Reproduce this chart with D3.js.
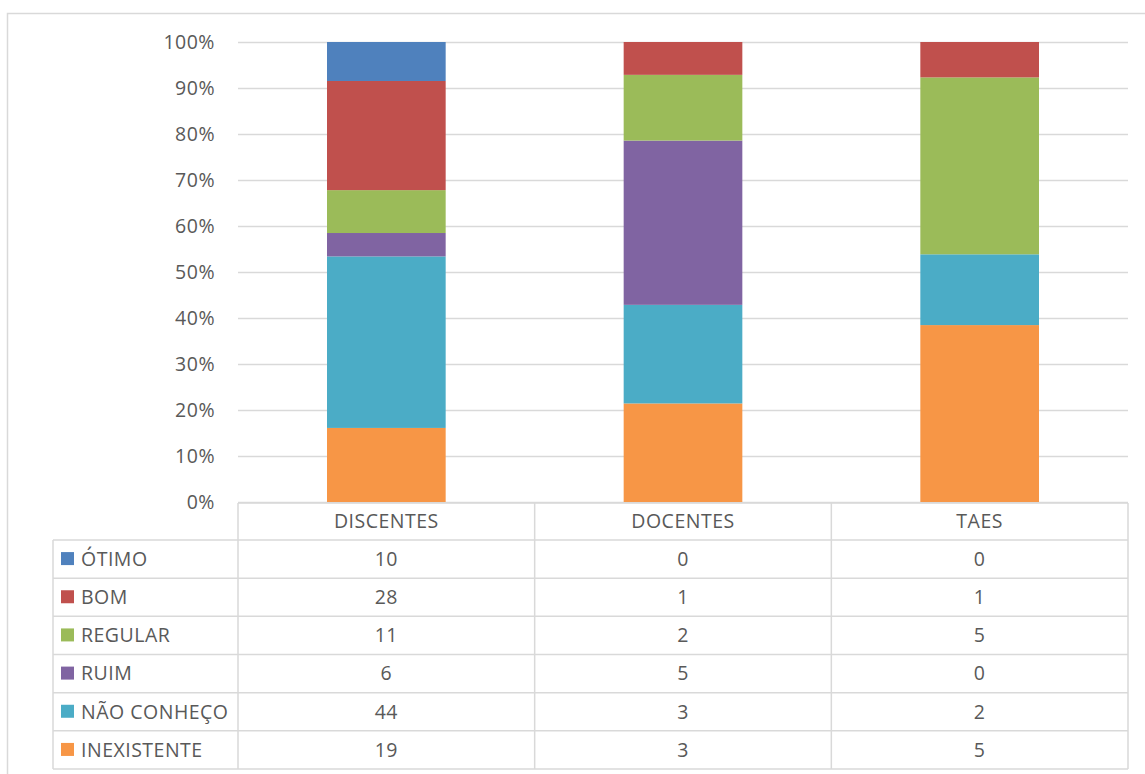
<!DOCTYPE html>
<html>
<head>
<meta charset="utf-8">
<script src="https://cdn.jsdelivr.net/npm/d3@7"></script>
<style>
  html, body { margin: 0; padding: 0; background: #fff; }
  svg { display: block; }
  text { font-family: "Open Sans", sans-serif; fill: #595959; }
</style>
</head>
<body>
<svg id="chart" width="1145" height="774"></svg>
<script>
const categories = ["DISCENTES", "DOCENTES", "TAES"];
// series in legend (table) order, top to bottom
const seriesNames = ["ÓTIMO", "BOM", "REGULAR", "RUIM", "NÃO CONHEÇO", "INEXISTENTE"];
const otimo       = [10, 0, 0];
const bom         = [28, 1, 1];
const regular     = [11, 2, 5];
const ruim        = [6, 5, 0];
const naoConheco  = [44, 3, 2];
const inexistente = [19, 3, 5];
const seriesColors = ["#4F81BD", "#C0504D", "#9BBB59", "#8064A2", "#4BACC6", "#F79646"];
const yTicks = [0, 0.1, 0.2, 0.3, 0.4, 0.5, 0.6, 0.7, 0.8, 0.9, 1.0];

const seriesValues = [otimo, bom, regular, ruim, naoConheco, inexistente];

const rows = categories.map((c, i) => {
  const r = { cat: c };
  seriesNames.forEach((s, j) => r[s] = seriesValues[j][i]);
  return r;
});

const svg = d3.select("#chart");
const L = 238, R = 1128, T = 42, B = 502;
const tableTop = 503, headerH = 37, rowH = 38.17, legendLeft = 53;
const gridColor = "#d9d9d9";
const FS = 19.5, LS = "0.5px";

// outer chart border
svg.append("rect").attr("x", 7.5).attr("y", 13.5).attr("width", 1160).attr("height", 800)
  .attr("fill", "none").attr("stroke", gridColor).attr("stroke-width", 1.5);

const x = d3.scaleBand().domain(categories).range([L, R]).paddingInner(0.6).paddingOuter(0.3);
const xCol = d3.scaleBand().domain(categories).range([L, R]);
const y = d3.scaleLinear().domain([0, 1]).range([B, T]);

// gridlines
const grid = svg.append("g").attr("transform", `translate(${L},0)`)
  .call(d3.axisLeft(y).tickValues(yTicks).tickSize(-(R - L)).tickFormat(""));
grid.select(".domain").remove();
grid.selectAll("line").attr("stroke", gridColor).attr("stroke-width", 1.3);

// y axis labels
const yAxis = svg.append("g").attr("transform", `translate(${L},0)`)
  .call(d3.axisLeft(y).tickValues(yTicks).tickSize(0).tickPadding(23).tickFormat(d3.format(".0%")));
yAxis.select(".domain").remove();
yAxis.selectAll("text").attr("font-size", FS).attr("fill", "#595959")
  .style("font-family", "'Open Sans', sans-serif").style("letter-spacing", LS);

// stacked bars (bottom = INEXISTENTE)
const stackKeys = seriesNames.slice().reverse();
const stack = d3.stack().keys(stackKeys).offset(d3.stackOffsetExpand);
const stacked = stack(rows);
const color = d3.scaleOrdinal().domain(seriesNames).range(seriesColors);

svg.append("g").selectAll("g").data(stacked).join("g")
  .attr("fill", d => color(d.key))
  .selectAll("rect").data(d => d).join("rect")
  .attr("x", d => x(d.data.cat))
  .attr("width", x.bandwidth())
  .attr("y", d => y(d[1]))
  .attr("height", d => Math.max(0, y(d[0]) - y(d[1])));

// data table
const tg = svg.append("g");
const rowY = i => tableTop + headerH + i * rowH;
const tableBottom = rowY(seriesNames.length);
const line = (x1, y1, x2, y2) => tg.append("line").attr("x1", x1).attr("y1", y1).attr("x2", x2).attr("y2", y2)
  .attr("stroke", gridColor).attr("stroke-width", 1.5);

// header top line (axis line)
line(L, tableTop, R, tableTop);
// horizontal row lines
for (let i = 0; i <= seriesNames.length; i++) line(legendLeft, rowY(i), R, rowY(i));
// vertical lines
categories.forEach(c => line(xCol(c), tableTop, xCol(c), tableBottom));
line(R, tableTop, R, tableBottom);
line(legendLeft, rowY(0), legendLeft, tableBottom);

// header labels
tg.selectAll("text.hdr").data(categories).join("text").attr("class", "hdr")
  .attr("x", d => xCol(d) + xCol.bandwidth() / 2)
  .attr("y", tableTop + headerH / 2)
  .attr("dy", "0.35em").attr("text-anchor", "middle").attr("font-size", FS)
  .style("letter-spacing", LS)
  .text(d => d);

// legend cells
seriesNames.forEach((s, i) => {
  const cy = rowY(i) + rowH / 2;
  tg.append("rect").attr("x", 61).attr("y", cy - 7).attr("width", 13).attr("height", 13).attr("fill", seriesColors[i]);
  tg.append("text").attr("x", 81).attr("y", cy).attr("dy", "0.35em").attr("font-size", FS)
    .style("letter-spacing", LS).text(s);
  categories.forEach((c, j) => {
    tg.append("text").attr("x", xCol(c) + xCol.bandwidth() / 2).attr("y", cy).attr("dy", "0.35em")
      .attr("text-anchor", "middle").attr("font-size", FS).style("letter-spacing", LS)
      .text(seriesValues[i][j]);
  });
});
</script>
</body>
</html>
